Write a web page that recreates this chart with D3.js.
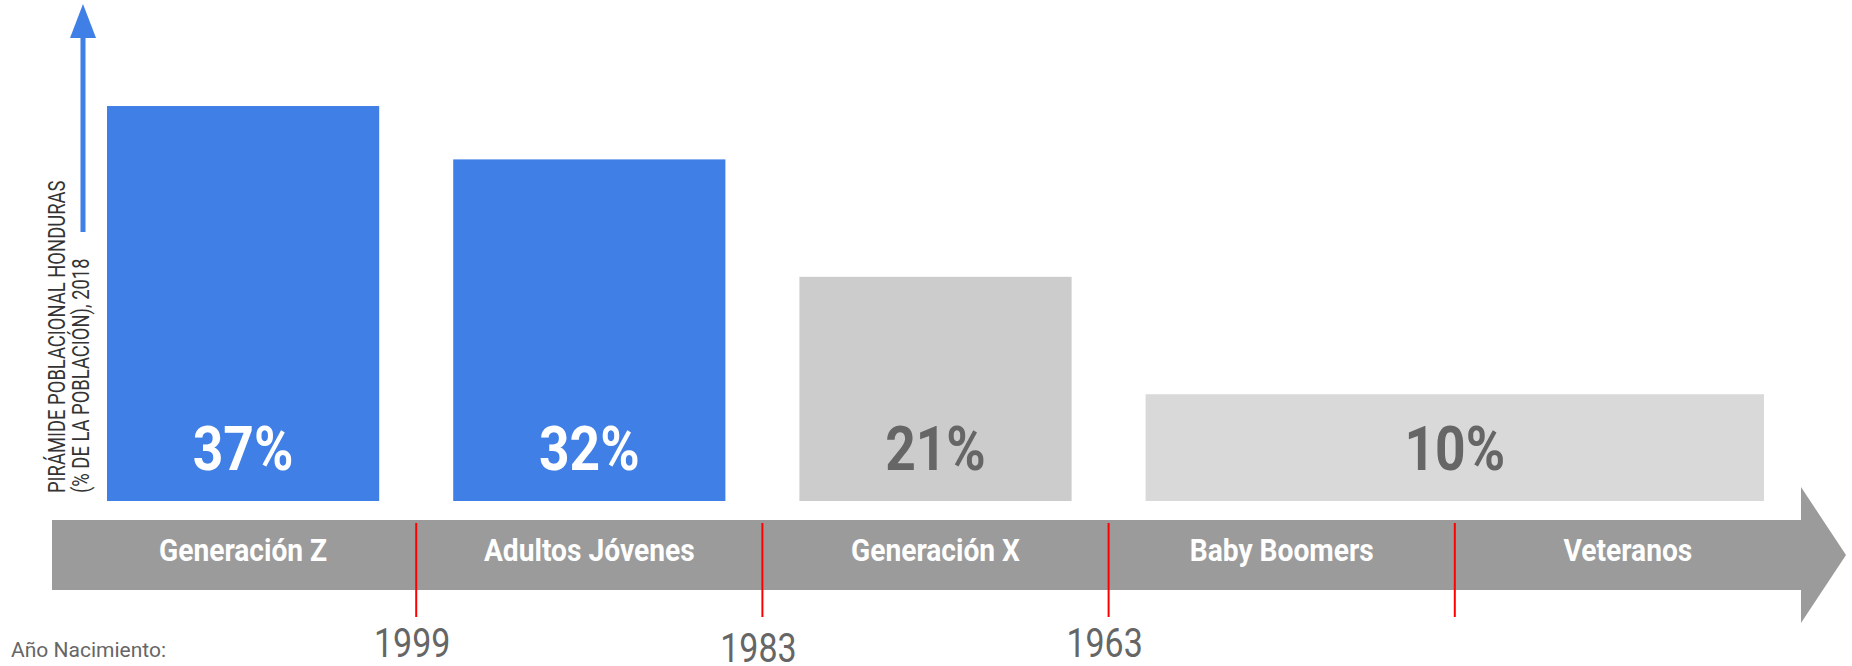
<!DOCTYPE html>
<html>
<head>
<meta charset="utf-8">
<script src="https://cdn.jsdelivr.net/npm/d3@7"></script>
<style>
  body { margin: 0; background: #fff; }
  svg { display: block; font-family: "Roboto", "Liberation Sans", sans-serif; }
</style>
</head>
<body>
<svg id="chart" width="1852" height="666"></svg>
<script>
// generations along the timeline (young -> old)
const generations = ["Generación Z", "Adultos Jóvenes", "Generación X", "Baby Boomers", "Veteranos"];
// birth years at each boundary between generations
const boundaryYears = ["1999", "1983", "1963", ""];
// bars: first and last generation covered, and share of population
const barStart = ["Generación Z", "Adultos Jóvenes", "Generación X", "Baby Boomers"];
const barEnd = ["Generación Z", "Adultos Jóvenes", "Generación X", "Veteranos"];
const barValues = [37, 32, 21, 10];
const barFill = ["#3f7fe6", "#3f7fe6", "#cccccc", "#d9d9d9"];
const barText = ["#ffffff", "#ffffff", "#666666", "#666666"];

const axisTitle = ["PIRÁMIDE POBLACIONAL HONDURAS", "(% DE LA POBLACIÓN), 2018"];
const yearTitle = "Año Nacimiento:";

const width = 1852, height = 666;
const svg = d3.select("#chart");

// roboto condensed is not around, so squeeze the regular face
function condense(sel, k) {
  sel.each(function () {
    const w = this.getComputedTextLength();
    d3.select(this).attr("textLength", w * k).attr("lengthAdjust", "spacingAndGlyphs");
  });
}

// scales
const x = d3.scaleBand().domain(generations).range([70, 1801]).paddingInner(0).paddingOuter(0);
const y = d3.scaleLinear().domain([0, 40]).range([501, 74]);
const pad = 37;

// timeline arrow
const bandTop = 520, bandBottom = 590, bandMid = (bandTop + bandBottom) / 2;
const bodyEnd = x.range()[1];
svg.append("path")
  .attr("d", `M52,${bandTop} L${bodyEnd},${bandTop} L${bodyEnd},487 L1846,${bandMid} L${bodyEnd},623 L${bodyEnd},${bandBottom} L52,${bandBottom} Z`)
  .attr("fill", "#9b9b9b");

// bars
const bars = barValues.map((v, i) => ({
  v,
  x0: x(barStart[i]) + pad,
  x1: x(barEnd[i]) + x.bandwidth() - pad,
  fill: barFill[i],
  text: barText[i]
}));

svg.selectAll("rect.bar")
  .data(bars)
  .join("rect")
  .attr("class", "bar")
  .attr("x", d => d.x0)
  .attr("width", d => d.x1 - d.x0)
  .attr("y", d => y(d.v))
  .attr("height", d => y(0) - y(d.v))
  .attr("fill", d => d.fill);

svg.selectAll("text.pct")
  .data(bars)
  .join("text")
  .attr("class", "pct")
  .attr("x", d => (d.x0 + d.x1) / 2)
  .attr("y", y(0) - 31)
  .attr("text-anchor", "middle")
  .attr("font-size", 62)
  .attr("font-weight", 700)
  .attr("fill", d => d.text)
  .text(d => d.v + "%")
  .call(condense, 0.86);

// generation names on the arrow
svg.selectAll("text.gen")
  .data(generations)
  .join("text")
  .attr("class", "gen")
  .attr("x", d => x(d) + x.bandwidth() / 2)
  .attr("y", 561)
  .attr("text-anchor", "middle")
  .attr("font-size", 32)
  .attr("font-weight", 700)
  .attr("fill", "#ffffff")
  .text(d => d)
  .call(condense, 0.88);

// red boundaries + birth years
const bounds = generations.slice(1);
svg.selectAll("line.div")
  .data(bounds)
  .join("line")
  .attr("class", "div")
  .attr("x1", d => x(d)).attr("x2", d => x(d))
  .attr("y1", 523).attr("y2", 617)
  .attr("stroke", "#ff0000")
  .attr("stroke-width", 2);

svg.selectAll("text.year")
  .data(bounds)
  .join("text")
  .attr("class", "year")
  .attr("x", d => x(d) - 4)
  .attr("y", (d, i) => i % 2 ? 662 : 657)
  .attr("text-anchor", "middle")
  .attr("font-size", 40)
  .attr("fill", "#666666")
  .text((d, i) => boundaryYears[i])
  .call(condense, 0.85);

svg.append("text")
  .attr("x", 11)
  .attr("y", 657)
  .attr("font-size", 21)
  .attr("fill", "#666666")
  .text(yearTitle);

// vertical arrow + title
svg.append("line")
  .attr("x1", 83).attr("x2", 83)
  .attr("y1", 232).attr("y2", 36)
  .attr("stroke", "#3f7fe6")
  .attr("stroke-width", 5);
svg.append("path")
  .attr("d", "M70,38 L83,4 L96,38 Z")
  .attr("fill", "#3f7fe6");

svg.selectAll("text.ytitle")
  .data(axisTitle)
  .join("text")
  .attr("class", "ytitle")
  .attr("transform", (d, i) => `translate(${65 + i * 24},493) rotate(-90)`)
  .attr("font-size", 23)
  .attr("fill", "#333333")
  .text(d => d)
  .call(condense, 0.8);
</script>
</body>
</html>
